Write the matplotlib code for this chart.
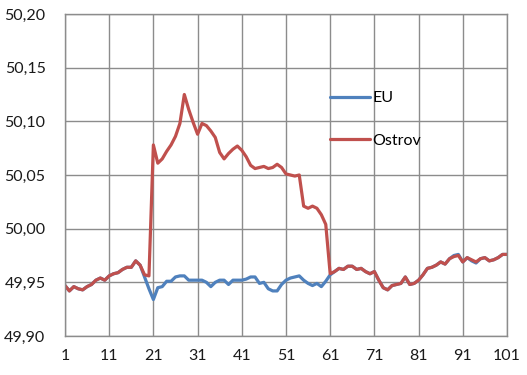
import numpy as np
import matplotlib.pyplot as plt

plt.rcParams['font.family'] = ['Lato', 'DejaVu Sans']

# sample index 1..101
idx = np.arange(1, 102)

eu = [49.947, 49.942, 49.946, 49.944, 49.943, 49.946, 49.948, 49.952, 49.954, 49.952,
      49.956, 49.958, 49.959, 49.962, 49.964, 49.964, 49.970, 49.966, 49.955, 49.944,
      49.934, 49.945, 49.946, 49.951, 49.951, 49.955, 49.956, 49.956, 49.952, 49.952,
      49.952, 49.952, 49.950, 49.946, 49.950, 49.952, 49.952, 49.948, 49.952, 49.952,
      49.952, 49.953, 49.955, 49.955, 49.949, 49.950, 49.944, 49.942, 49.942, 49.948,
      49.952, 49.954, 49.955, 49.956, 49.952, 49.949, 49.947, 49.949, 49.946, 49.951,
      49.957, 49.960, 49.963, 49.962, 49.965, 49.965, 49.962, 49.963, 49.960, 49.958,
      49.960, 49.952, 49.945, 49.943, 49.947, 49.948, 49.949, 49.955, 49.948, 49.949,
      49.952, 49.957, 49.963, 49.964, 49.966, 49.969, 49.967, 49.972, 49.975, 49.976,
      49.969, 49.973, 49.970, 49.968, 49.972, 49.973, 49.970, 49.971, 49.973, 49.976,
      49.976]

ostrov = [49.947, 49.942, 49.946, 49.944, 49.943, 49.946, 49.948, 49.952, 49.954, 49.952,
          49.956, 49.958, 49.959, 49.962, 49.964, 49.964, 49.970, 49.966, 49.957, 49.956,
          50.078, 50.061, 50.065, 50.072, 50.078, 50.086, 50.098, 50.125, 50.111, 50.099,
          50.088, 50.098, 50.096, 50.091, 50.085, 50.071, 50.065, 50.070, 50.074, 50.077,
          50.073, 50.067, 50.059, 50.056, 50.057, 50.058, 50.056, 50.057, 50.060, 50.057,
          50.051, 50.050, 50.049, 50.050, 50.021, 50.019, 50.021, 50.019, 50.013, 50.004,
          49.958, 49.960, 49.963, 49.962, 49.965, 49.965, 49.962, 49.963, 49.960, 49.958,
          49.960, 49.952, 49.945, 49.943, 49.947, 49.948, 49.949, 49.955, 49.948, 49.949,
          49.952, 49.957, 49.963, 49.964, 49.966, 49.969, 49.967, 49.972, 49.974, 49.975,
          49.969, 49.973, 49.971, 49.969, 49.972, 49.973, 49.970, 49.971, 49.973, 49.976,
          49.976]

xticks = np.arange(1, 102, 10)
yticks = [49.90, 49.95, 50.00, 50.05, 50.10, 50.15, 50.20]

fig = plt.figure(figsize=(5.27, 3.75), dpi=100)
ax = fig.add_axes([0.1233, 0.104, 0.8387, 0.8587])

ax.plot(idx, eu, color="#4F81BD", lw=2.3, label="EU", solid_capstyle="round")
ax.plot(idx, ostrov, color="#C0504D", lw=2.3, label="Ostrov", solid_capstyle="round")

ax.set_xlim(1, 101)
ax.set_ylim(49.90, 50.20)
ax.set_xticks(xticks)
ax.set_yticks(yticks)
ax.set_yticklabels([f"{v:.2f}".replace(".", ",") for v in yticks])
ax.grid(True, color="#8c8c8c", lw=1)
ax.set_axisbelow(True)
for s in ax.spines.values():
    s.set_color("#8c8c8c")
    s.set_linewidth(1)
ax.tick_params(length=0, labelsize=11.5, colors="#1a1a1a")
ax.tick_params(axis="y", pad=14)
ax.tick_params(axis="x", pad=9)

ax.legend(loc="upper left", bbox_to_anchor=(0.6, 0.76), frameon=False, fontsize=11.5,
          handlelength=2.5, handletextpad=0.15, labelspacing=1.75,
          borderpad=0, borderaxespad=0)

fig.savefig("out.png", dpi=100)
